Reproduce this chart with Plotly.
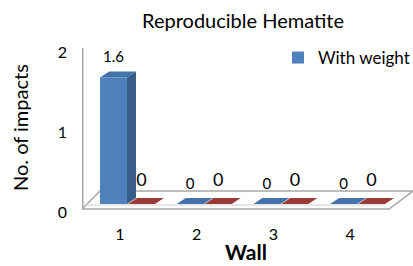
import plotly.graph_objects as go

# ---- data ----
walls = [1, 2, 3, 4]
with_weight = [1.6, 0, 0, 0]
without_weight = [0, 0, 0, 0]
series_names = ["With weight", "Without weight"]

# ---- style constants ----
FONT = "Lato, 'Open Sans', sans-serif"
W, H = 413, 266
L, R, T, B = 82, 0, 45, 45
PX_X = 76.7          # px per category unit
PX_Y = 79.0          # px per value unit
X_REF_PX = 120       # px of category 1
Y0_PX = 204          # px of value 0 (bars)
LBL0_PX = 212        # px of tick label 0

def xd(px):
    return 1 + (px - X_REF_PX) / PX_X

def yd(px):
    return (Y0_PX - px) / PX_Y

def xp(px):
    return (px - L) / (W - L)

def yp(px):
    return (H - B - px) / (H - T - B)

DX = 9 / PX_X        # depth offset (x)
DY = 6 / PX_Y        # depth offset (y)
BAR_W = 0.352
OFFSETS = [-0.261, 0.104]
FRONT = ["#4f81bd", "#c0504d"]
TOP = ["#4473ab", "#9a3b38"]
SIDE = ["#385d8a", "#8c3230"]
LABEL_SIZE = [15, 18]
LABEL_GAP = [19 / PX_Y, 23 / PX_Y]

fig = go.Figure()
all_series = [with_weight, without_weight]

for i, vals in enumerate(all_series):
    fig.add_trace(go.Bar(
        x=walls, y=vals, offset=OFFSETS[i], width=BAR_W,
        marker=dict(color=FRONT[i], line=dict(width=0)),
        name=series_names[i], showlegend=(i == 0), hoverinfo="skip"))

# tops and sides (3D look), red first, then blue
for i in [1, 0]:
    vals = all_series[i]
    for w, v in zip(walls, vals):
        x0 = w + OFFSETS[i]
        x1 = x0 + BAR_W
        if v > 0:
            fig.add_trace(go.Scatter(
                x=[x1, x1 + DX, x1 + DX, x1, x1], y=[0, DY, v + DY, v, 0],
                fill="toself", fillcolor=SIDE[i], mode="lines",
                line=dict(width=0, color=SIDE[i]), showlegend=False, hoverinfo="skip"))
        fig.add_trace(go.Scatter(
            x=[x0, x1, x1 + DX, x0 + DX, x0], y=[v, v, v + DY, v + DY, v],
            fill="toself", fillcolor=TOP[i], mode="lines",
            line=dict(width=0, color=TOP[i]), showlegend=False, hoverinfo="skip"))

# data labels
for i, vals in enumerate(all_series):
    fig.add_trace(go.Scatter(
        x=[w + OFFSETS[i] + BAR_W / 2 for w in walls],
        y=[v + LABEL_GAP[i] for v in vals],
        text=[f"{v:g}" for v in vals], mode="text", textposition="middle center",
        textfont=dict(family=FONT, size=LABEL_SIZE[i], color="#000000"),
        showlegend=False, hoverinfo="skip"))

GRAY = "#a6a6a6"
shapes = [
    # left wall line
    dict(type="line", x0=xd(82.5), x1=xd(82.5), y0=yd(208), y1=yd(48),
         line=dict(color=GRAY, width=2)),
    # floor outline
    dict(type="path",
         path=f"M {xd(82)},{yd(209)} L {xd(389)},{yd(209)} L {xd(413)},{yd(191)} "
              f"L {xd(100)},{yd(191)} Z",
         line=dict(color=GRAY, width=1.5), fillcolor="rgba(0,0,0,0)"),
    dict(type="line", x0=xd(84), x1=xd(385), y0=yd(205), y1=yd(205),
         line=dict(color="#d0d0d0", width=1)),
]
for s in shapes:
    s.update(xref="x", yref="y", layer="below")

LEG_TEXT_PX = 318
LEG_Y_PX = 58

fig.update_layout(
    width=W, height=H,
    margin=dict(l=L, r=R, t=T, b=B, autoexpand=False),
    paper_bgcolor="white", plot_bgcolor="white",
    barmode="overlay",
    font=dict(family=FONT, color="#000000"),
    title=dict(text="Reproducible Hematite", x=243 / W, xanchor="center",
               y=1 - 21 / H, yanchor="middle",
               font=dict(family=FONT, size=20, color="#000000")),
    xaxis=dict(range=[xd(L), xd(W)], tickvals=walls, ticktext=[str(w) for w in walls],
               showgrid=False, zeroline=False, showline=False, ticks="", ticklen=0,
               automargin=False,
               tickfont=dict(size=16), ticklabelstandoff=2),
    yaxis=dict(range=[yd(H - B), yd(T)], visible=False, showgrid=False, zeroline=False,
               automargin=False),
    yaxis2=dict(range=[-(H - B - LBL0_PX) / 80, (LBL0_PX - T) / 80], overlaying="y",
                side="left", tickvals=[0, 1, 2], showgrid=False, zeroline=False,
                showline=False, ticks="", ticklen=0, tickfont=dict(size=16),
                ticklabelstandoff=14, automargin=False),
    annotations=[
        dict(text="No. of impacts", textangle=-90, showarrow=False,
             xref="paper", yref="paper", x=xp(20), y=yp(128),
             xanchor="center", yanchor="middle",
             font=dict(family=FONT, size=20, color="#000000")),
        dict(text="<b>Wall</b>", showarrow=False,
             xref="paper", yref="paper", x=xp(246), y=yp(265),
             xanchor="center", yanchor="bottom", borderpad=0,
             font=dict(family=FONT, size=21, color="#000000")),
    ],
    legend=dict(x=(LEG_TEXT_PX - 40 - L) / (W - L), xanchor="left",
                y=yp(LEG_Y_PX), yanchor="middle",
                font=dict(size=17), itemwidth=30, bgcolor="rgba(0,0,0,0)",
                borderwidth=0, tracegroupgap=0),
    shapes=shapes,
    showlegend=True,
)
# invisible helper trace to activate yaxis2 (tick labels)
fig.add_trace(go.Scatter(x=[walls[0]], y=[0], yaxis="y2", mode="markers",
                         marker=dict(opacity=0), showlegend=False, hoverinfo="skip"))

fig.write_html("out.html", config={"displayModeBar": False},
               post_script="document.body.style.margin='0';document.body.style.padding='0';")
